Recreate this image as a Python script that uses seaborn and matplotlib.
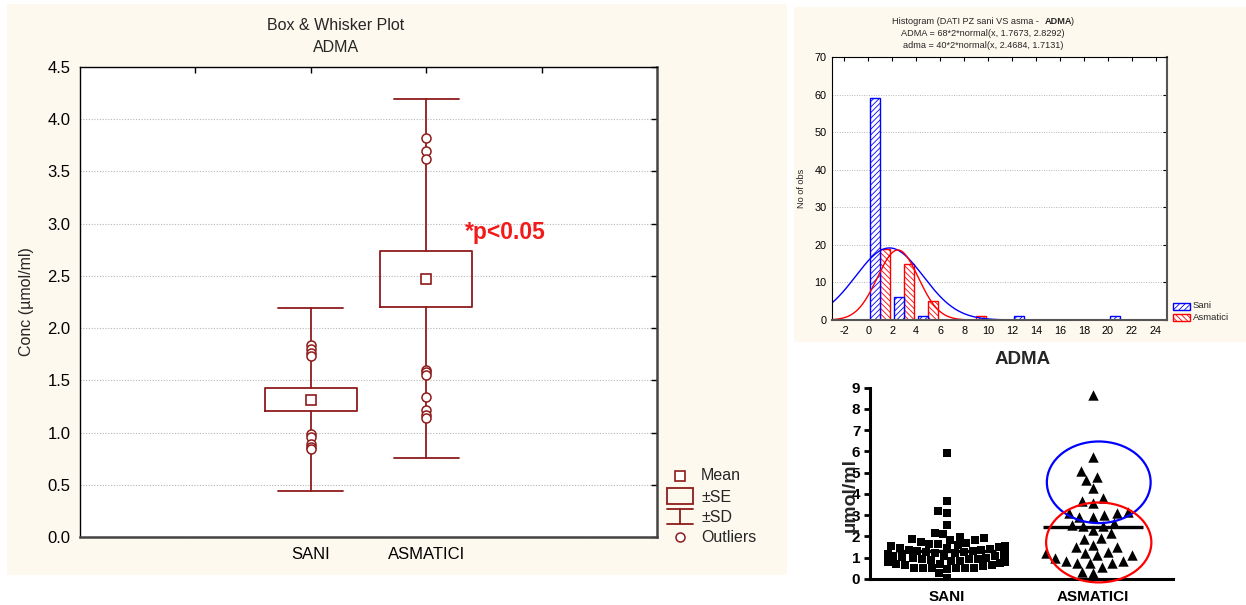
import numpy as np
import pandas as pd
import matplotlib
matplotlib.use("Agg")
import matplotlib.pyplot as plt
from matplotlib.patches import Rectangle, Ellipse
from matplotlib.lines import Line2D
import seaborn as sns

# ---------------- data ----------------
groups = ["SANI", "ASMATICI"]

# Box & whisker summary (mean, +/-SE box, +/-SD whiskers, outliers)
box_mean = [1.31, 2.468]
box_se_low = [1.21, 2.20]
box_se_high = [1.425, 2.74]
box_sd_low = [0.44, 0.757]
box_sd_high = [2.19, 4.19]
outliers_sani = [1.84, 1.80, 1.76, 1.73, 0.99, 0.96, 0.89, 0.86, 0.84]
outliers_asmatici = [3.82, 3.70, 3.62, 1.60, 1.58, 1.55, 1.34, 1.22, 1.17, 1.14]

# Histogram: counts per 2-unit bin (left edges)
bin_left = [-4, -2, 0, 2, 4, 6, 8, 10, 12, 14, 16, 18, 20, 22, 24]
counts_sani = [0, 0, 59, 6, 1, 0, 0, 0, 1, 0, 0, 0, 1, 0, 0]
counts_asmatici = [0, 0, 19, 15, 5, 0, 1, 0, 0, 0, 0, 0, 0, 0, 0]
# fitted normal curves: n * binwidth * normal(x, mean, sd)
fit_n = [68, 40]
fit_mean = [1.7673, 2.4684]
fit_sd = [2.8292, 1.7131]
fit_binwidth = 2

# Individual values (µmol/ml)
values_sani = [5.91, 3.68, 3.21, 3.12, 2.54, 2.18, 2.10, 1.99, 1.91, 1.90, 1.84, 1.82,
               0.03, 0.27, 0.50, 0.50, 0.52, 0.51, 0.49, 0.50, 0.52,
               0.62, 0.65, 0.68, 0.70, 0.72, 0.75, 0.78, 0.80, 0.82, 0.85,
               0.87, 0.90, 0.92, 0.94, 0.96, 0.98, 1.00, 1.01, 1.03, 1.05,
               1.07, 1.09, 1.10, 1.12, 1.14, 1.16, 1.18, 1.20, 1.22, 1.24,
               1.26, 1.28, 1.30, 1.32, 1.35, 1.38, 1.41, 1.44, 1.47, 1.50,
               1.53, 1.56, 1.60, 1.63, 1.67, 1.70, 1.75]
values_asmatici = [8.65, 5.72, 5.09, 4.78, 4.66, 4.27, 3.68, 3.79, 3.59,
                   3.09, 3.01, 2.93, 2.93, 3.09, 3.17, 2.62, 2.49, 2.47, 2.54,
                   2.30, 2.15, 1.91, 1.87, 1.60, 1.49, 1.52, 1.28, 1.13, 1.13,
                   1.21, 1.21, 0.97, 0.86, 0.86, 0.77, 0.77, 0.77, 0.55, 0.30, 0.34]
# highlighted sub-groups: (centre x, centre y, width, height)
ring_high = (1.04, 4.55, 0.71, 3.84)
ring_low = (1.04, 1.72, 0.72, 3.76)

# ---------------- figure ----------------
W, H = 1246, 605
sns.set_theme(style="white")
plt.rcParams["font.family"] = ["Liberation Sans", "DejaVu Sans"]
plt.rcParams["hatch.linewidth"] = 0.6
plt.rcParams["axes.unicode_minus"] = False

fig = plt.figure(figsize=(W / 100, H / 100), dpi=100)
fig.patch.set_facecolor("white")

def px_axes(x0, y0, x1, y1, **kw):
    return fig.add_axes([x0 / W, 1 - y1 / H, (x1 - x0) / W, (y1 - y0) / H], **kw)

def fx(x):
    return x / W

def fy(y):
    return 1 - y / H

cream = "#FEF9EE"
dark_red = "#8E1B1B"

bg = px_axes(0, 0, W, H, zorder=-10)
bg.set_xlim(0, W); bg.set_ylim(H, 0); bg.axis("off")
bg.add_patch(Rectangle((7, 4), 780, 571, color=cream, lw=0))
bg.add_patch(Rectangle((794, 7), 452, 335, color=cream, lw=0))

# ---------------- Box & whisker panel ----------------
ax1 = px_axes(80, 67, 657, 537)
ax1.set_facecolor("white")
outliers = [outliers_sani, outliers_asmatici]
stats = []
for i, g in enumerate(groups):
    stats.append(dict(label=g, mean=box_mean[i], med=box_mean[i],
                      q1=box_se_low[i], q3=box_se_high[i],
                      whislo=box_sd_low[i], whishi=box_sd_high[i],
                      fliers=np.array(outliers[i])))
line_kw = dict(color=dark_red, lw=1.3)
art = ax1.bxp(stats, positions=[2, 3], widths=0.8, capwidths=0.56,
              showmeans=True, manage_ticks=False,
              boxprops=line_kw, whiskerprops=line_kw, capprops=line_kw,
              medianprops=dict(lw=0),
              meanprops=dict(marker="s", markerfacecolor="white",
                             markeredgecolor=dark_red, markersize=6.5,
                             markeredgewidth=1.2),
              flierprops=dict(marker="o", markerfacecolor="white",
                              markeredgecolor=dark_red, markersize=6.5,
                              markeredgewidth=1.1))
for m in art["medians"]:
    m.set_visible(False)

ax1.set_xlim(0, 5)
ax1.set_ylim(0, 4.5)
ax1.set_yticks(np.arange(0, 4.51, 0.5))
ax1.set_yticklabels([f"{v:.1f}" for v in np.arange(0, 4.51, 0.5)])
ax1.set_xticks([1, 2, 3, 4])
ax1.set_xticklabels(["", "SANI", "ASMATICI", ""])
ax1.yaxis.grid(True, linestyle=(0, (1, 1.5)), color="#b5b5b5", lw=0.8)
ax1.set_axisbelow(True)
ax1.tick_params(direction="in", top=True, right=True, length=4, width=1,
                labelsize=12, colors="black", pad=7)
for s in ["left", "top"]:
    ax1.spines[s].set_color("black"); ax1.spines[s].set_linewidth(1.0)
for s in ["right", "bottom"]:
    ax1.spines[s].set_color("#444444"); ax1.spines[s].set_linewidth(1.8)
ax1.text(3.34, 2.92, "*p<0.05", color="#F21A1A", fontsize=16.5,
         fontweight="bold", va="center", ha="left")

fig.text(fx(336), fy(25), "Box & Whisker Plot", ha="center", va="center", fontsize=11.5)
fig.text(fx(336), fy(47.5), "ADMA", ha="center", va="center", fontsize=11.5)
fig.text(fx(26), fy(302), "Conc (µmol/ml)", rotation=90, ha="center", va="center",
         fontsize=11.5)

# legend keys for the box plot
ov = px_axes(0, 0, W, H, zorder=20)
ov.set_xlim(0, W); ov.set_ylim(H, 0); ov.axis("off")
ov.add_line(Line2D([680], [476], marker="s", markerfacecolor="white",
                   markeredgecolor=dark_red, markersize=6.5, markeredgewidth=1.2))
ov.add_patch(Rectangle((667, 488), 26, 16, fill=False, ec=dark_red, lw=1.3))
ov.add_line(Line2D([667, 693], [509, 509], color=dark_red, lw=1.3))
ov.add_line(Line2D([667, 693], [524, 524], color=dark_red, lw=1.3))
ov.add_line(Line2D([680, 680], [509, 524], color=dark_red, lw=1.3))
ov.add_line(Line2D([680], [537], marker="o", markerfacecolor="white",
                   markeredgecolor=dark_red, markersize=6.5, markeredgewidth=1.1))
for lbl, yy in zip(["Mean", "±SE", "±SD", "Outliers"], [476, 497, 517, 537]):
    ov.text(701, yy, lbl, fontsize=11.5, va="center", ha="left")

# ---------------- Histogram panel ----------------
ax2 = px_axes(832, 57, 1167, 320)
ax2.set_facecolor("white")
bl = np.array(bin_left, dtype=float)
hist_df = pd.DataFrame({
    "x": np.concatenate([bl + 1, bl + 1]),
    "w": counts_sani + counts_asmatici,
    "grp": ["Sani"] * len(bl) + ["Asmatici"] * len(bl),
})
sns.histplot(data=hist_df, x="x", weights="w", hue="grp",
             hue_order=["Sani", "Asmatici"],
             binwidth=2, binrange=(bl[0], bl[-1] + 2), multiple="dodge", shrink=0.83,
             palette={"Sani": "blue", "Asmatici": "red"}, alpha=1,
             legend=False, ax=ax2)
for p in ax2.patches:
    r, g, b, _ = p.get_facecolor()
    if b > r:
        p.set_facecolor("white"); p.set_edgecolor("blue"); p.set_hatch("//////")
    else:
        p.set_facecolor("white"); p.set_edgecolor("red"); p.set_hatch("\\\\\\\\\\\\")
    p.set_linewidth(1.0)

xs = np.linspace(-3.03, 24.94, 600)
for n, mu, sd, col in zip(fit_n, fit_mean, fit_sd, ["blue", "red"]):
    ys = n * fit_binwidth * np.exp(-0.5 * ((xs - mu) / sd) ** 2) / (sd * np.sqrt(2 * np.pi))
    sns.lineplot(x=xs, y=ys, color=col, lw=1.0, ax=ax2)

ax2.set_xlim(-3.03, 24.94)
ax2.set_ylim(0, 70)
ax2.set_xticks(np.arange(-2, 25, 2))
ax2.set_yticks(np.arange(0, 71, 10))
ax2.set_xlabel(""); ax2.set_ylabel("")
ax2.yaxis.grid(True, linestyle=(0, (1, 1.5)), color="#b5b5b5", lw=0.7)
ax2.set_axisbelow(True)
ax2.tick_params(direction="in", top=True, right=True, length=3, width=0.8,
                labelsize=7.8, colors="black", pad=4)
for s in ["left", "top"]:
    ax2.spines[s].set_color("black"); ax2.spines[s].set_linewidth(0.8)
for s in ["right", "bottom"]:
    ax2.spines[s].set_color("#555555"); ax2.spines[s].set_linewidth(1.5)

fig.text(fx(802), fy(188), "No of obs", rotation=90, ha="center", va="center", fontsize=6.6)
t1 = fig.text(fx(892), fy(21), "Histogram (DATI PZ sani VS asma -", ha="left",
              va="center", fontsize=6.6)
t2 = ov.annotate("ADMA", xy=(1, 0), xycoords=t1, xytext=(4.5, 0),
                 textcoords="offset points", ha="left", va="bottom",
                 fontsize=6.6, fontweight="bold")
ov.annotate(")", xy=(1, 0), xycoords=t2, xytext=(-1.5, 0), textcoords="offset points",
            ha="left", va="bottom", fontsize=6.6)
fig.text(fx(983), fy(33.7), "ADMA = 68*2*normal(x, 1.7673, 2.8292)", ha="center",
         va="center", fontsize=6.6)
fig.text(fx(983), fy(45.7), "adma = 40*2*normal(x, 2.4684, 1.7131)", ha="center",
         va="center", fontsize=6.6)

# histogram legend
for yy, col, hatch, lbl in [(302.5, "blue", "//////", "Sani"),
                            (313.5, "red", "\\\\\\\\\\\\", "Asmatici")]:
    ov.add_patch(Rectangle((1173, yy), 16.5, 7, facecolor="white", edgecolor=col,
                           hatch=hatch, lw=1.0))
    ov.text(1193, yy + 3.5, lbl, fontsize=6.8, va="center", ha="left")

# ---------------- Dot plot panel ----------------
ax3 = px_axes(870, 387.7, 1173, 579)
ax3.set_facecolor("white")
sns.swarmplot(x=["SANI"] * len(values_sani), y=values_sani, order=groups,
              marker="s", color="black", size=6.2, linewidth=0, ax=ax3,
              warn_thresh=1)
sns.swarmplot(x=["ASMATICI"] * len(values_asmatici), y=values_asmatici, order=groups,
              marker="^", color="black", size=7.5, linewidth=0, ax=ax3,
              warn_thresh=1)
for i, vals in enumerate([values_sani, values_asmatici]):
    ax3.hlines(np.mean(vals), i - 0.34, i + 0.34, color="black", lw=2.4, zorder=5)
for (cx, cy, ew, eh), col in [(ring_high, "blue"), (ring_low, "red")]:
    ax3.add_patch(Ellipse((cx, cy), ew, eh, fill=False, ec=col, lw=1.6,
                          clip_on=False, zorder=6))
ax3.set_xlim(-0.525, 1.548)
ax3.set_ylim(0, 9)
ax3.set_yticks(range(0, 10))
ax3.set_xlabel(""); ax3.set_ylabel("")
for s in ["top", "right"]:
    ax3.spines[s].set_visible(False)
for s in ["left", "bottom"]:
    ax3.spines[s].set_color("black"); ax3.spines[s].set_linewidth(2.2)
ax3.tick_params(axis="y", direction="out", length=4, width=2, left=True,
                labelsize=11, colors="black", pad=3)
ax3.tick_params(axis="x", length=0, labelsize=11, colors="black", pad=8)
for lab in ax3.get_xticklabels() + ax3.get_yticklabels():
    lab.set_fontweight("bold")
fig.text(fx(1023), fy(359), "ADMA", ha="center", va="center", fontsize=13.5,
         fontweight="bold")
fig.text(fx(850), fy(495), "µmol/ml", rotation=90, ha="center", va="center",
         fontsize=14, fontweight="bold")

fig.savefig("out.png", dpi=100)
